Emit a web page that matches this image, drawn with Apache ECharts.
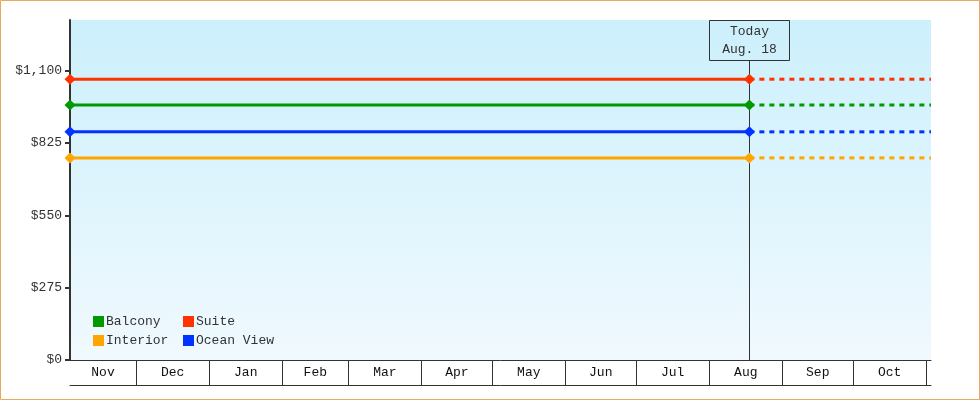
<!DOCTYPE html>
<html>
<head>
<meta charset="utf-8">
<style>
  html, body { margin: 0; padding: 0; background: #fff; }
  #chart { width: 980px; height: 400px; }
</style>
<script src="https://cdn.jsdelivr.net/npm/echarts@6/dist/echarts.min.js"></script>
</head>
<body>
<div id="chart"></div>
<script>
// cabin fares, flat across the year
const cabinNames = ['Balcony', 'Suite', 'Interior', 'Ocean View'];
const cabinFares = [969, 1067, 768, 867];
const cabinColors = ['#009900', '#ff3300', '#ffa500', '#0033ff'];

const startDate = '2024-11-03';
const todayDate = '2025-08-18';
const endDate = '2025-11-03';
const todayLines = ['Today', 'Aug. 18'];

// month cells along the bottom
const monthEdges = ['2024-11-03', '2024-12-01', '2025-01-01', '2025-02-01', '2025-03-01',
  '2025-04-01', '2025-05-01', '2025-06-01', '2025-07-01', '2025-08-01', '2025-09-01',
  '2025-10-01', '2025-11-01'];
const monthLabels = ['Nov', 'Dec', 'Jan', 'Feb', 'Mar', 'Apr', 'May', 'Jun', 'Jul', 'Aug', 'Sep', 'Oct'];

const yTicks = [0, 275, 550, 825, 1100];
const yMax = 1292;

const font = 'Liberation Mono';
const ink = '#333';

const toTime = s => +echarts.time.parse(s);
const monthCells = monthLabels.map((m, i) => [toTime(monthEdges[i]), 0, toTime(monthEdges[i + 1])]);

const series = [];
cabinNames.forEach((name, i) => {
  series.push({
    name: name,
    type: 'line',
    color: cabinColors[i],
    symbol: 'diamond',
    symbolSize: 11,
    lineStyle: { width: 3 },
    z: 3,
    data: [[startDate, cabinFares[i]], [todayDate, cabinFares[i]]]
  });
  series.push({
    name: name,
    type: 'line',
    color: cabinColors[i],
    showSymbol: false,
    lineStyle: { width: 3, type: [5, 5], dashOffset: 0 },
    z: 3,
    data: [[todayDate, cabinFares[i]], [endDate, cabinFares[i]]]
  });
});

// today marker: vertical rule with a boxed label at the top of the plot
series.push({
  type: 'custom',
  z: 1,
  silent: true,
  clip: false,
  data: [[toTime(todayDate), 0]],
  renderItem: function (params, api) {
    const base = api.coord([api.value(0), 0]);
    const top = params.coordSys.y;
    const x = Math.round(base[0]) + 0.5;
    return {
      type: 'group',
      children: [
        { type: 'line', shape: { x1: x, y1: top + 40, x2: x, y2: base[1] },
          style: { stroke: ink, lineWidth: 1 } },
        { type: 'rect', shape: { x: x - 40, y: top + 0.5, width: 80, height: 40 },
          style: { fill: 'rgba(0,0,0,0)', stroke: ink, lineWidth: 1 } },
        { type: 'text', x: x, y: top + 21,
          style: { text: todayLines.join('\n'), font: '13px "' + font + '"', fill: ink,
            align: 'center', verticalAlign: 'middle', lineHeight: 18 } }
      ]
    };
  }
});

// month cells under the x axis: separator at each month end, name centred in the cell
series.push({
  type: 'custom',
  silent: true,
  clip: false,
  encode: { x: [0, 2], y: 1 },
  data: monthCells,
  renderItem: function (params, api) {
    const a = api.coord([api.value(0), 0]);
    const b = api.coord([api.value(2), 0]);
    const xr = Math.round(b[0]) + 0.5;
    return {
      type: 'group',
      children: [
        { type: 'line', shape: { x1: xr, y1: a[1], x2: xr, y2: a[1] + 25 },
          style: { stroke: ink, lineWidth: 1 } },
        { type: 'text', x: (a[0] + b[0]) / 2, y: a[1] + 13,
          style: { text: monthLabels[params.dataIndex], font: '13px "' + font + '"', fill: '#111',
            align: 'center', verticalAlign: 'middle' } }
      ]
    };
  }
});

const legendBase = {
  orient: 'vertical',
  icon: 'rect',
  itemWidth: 11,
  itemHeight: 11,
  itemGap: 6,
  top: 310,
  selectedMode: false,
  textStyle: { fontFamily: font, fontSize: 13, color: ink, padding: [0, 0, 0, -3] }
};

const chart = echarts.init(document.getElementById('chart'));
chart.setOption({
  animation: false,
  textStyle: { fontFamily: font },
  graphic: [{
    type: 'rect', silent: true,
    shape: { x: 0.5, y: 0.5, width: 979, height: 399 },
    style: { fill: 'none', stroke: '#eaa862', lineWidth: 1 }
  }],
  grid: {
    left: 70, right: 49, top: 20, bottom: 40,
    show: true, borderWidth: 0,
    backgroundColor: {
      type: 'linear', x: 0, y: 0, x2: 0, y2: 1,
      colorStops: [{ offset: 0, color: '#ccf0fc' }, { offset: 1, color: '#f0f9fe' }]
    }
  },
  legend: [
    Object.assign({}, legendBase, { left: 88, data: [cabinNames[0], cabinNames[2]] }),
    Object.assign({}, legendBase, { left: 178, data: [cabinNames[1], cabinNames[3]] })
  ],
  xAxis: [{
    type: 'time',
    min: startDate,
    max: endDate,
    splitLine: { show: false },
    axisLine: { lineStyle: { color: ink, width: 1 } },
    axisTick: { show: false },
    axisLabel: { show: false }
  }, {
    type: 'time',
    min: startDate,
    max: endDate,
    position: 'bottom',
    offset: 25,
    splitLine: { show: false },
    axisLine: { lineStyle: { color: ink, width: 1 } },
    axisTick: { show: false },
    axisLabel: { show: false }
  }],
  yAxis: {
    type: 'value',
    min: 0,
    max: yMax,
    splitLine: { show: false },
    axisLine: { show: true, lineStyle: { color: ink, width: 2 } },
    axisTick: { show: true, customValues: yTicks, length: 5, lineStyle: { color: ink, width: 2 } },
    axisLabel: {
      customValues: yTicks,
      margin: 8,
      fontFamily: font, fontSize: 13, color: ink,
      formatter: v => '$' + v.toLocaleString('en-US')
    }
  },
  series: series
});
</script>
</body>
</html>
